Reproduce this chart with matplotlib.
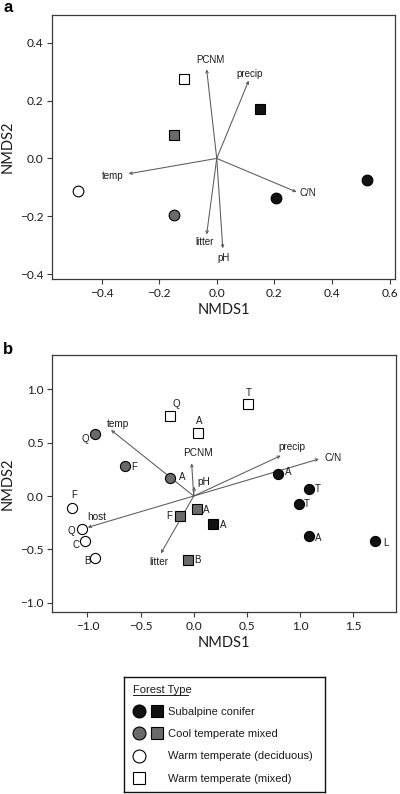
import matplotlib
matplotlib.use('Agg')
import matplotlib.pyplot as plt
from matplotlib.lines import Line2D
from matplotlib.legend_handler import HandlerTuple

# ---------------- data ----------------
forest_types = ['Subalpine conifer', 'Cool temperate mixed',
                'Warm temperate (deciduous)', 'Warm temperate (mixed)']

# panel a: site scores
a_x = [-0.482, -0.147, 0.206, 0.521, -0.112, -0.147, 0.149]
a_y = [-0.111, -0.194, -0.138, -0.073, 0.273, 0.081, 0.171]
a_type = [2, 1, 0, 0, 3, 1, 0]
a_shape = ['o', 'o', 'o', 'o', 's', 's', 's']

# panel a: environmental vectors
a_vec_names = ['PCNM', 'precip', 'temp', 'C/N', 'litter', 'pH']
a_vec_x = [-0.035, 0.111, -0.306, 0.277, -0.035, 0.021]
a_vec_y = [0.308, 0.269, -0.053, -0.116, -0.263, -0.311]

# panel b: site scores
b_x = [-0.925, -0.644, -0.219, -1.144, -1.050, -1.022, -0.925,
       -0.219, 0.041, 0.513, -0.131, 0.034, -0.050, 0.178,
       0.794, 1.084, 0.988, 1.084, 1.709]
b_y = [0.584, 0.281, 0.172, -0.109, -0.306, -0.422, -0.584,
       0.750, 0.588, 0.866, -0.184, -0.119, -0.600, -0.259,
       0.203, 0.066, -0.072, -0.378, -0.425]
b_type = [1, 1, 1, 2, 2, 2, 2,
          3, 3, 3, 1, 1, 1, 0,
          0, 0, 0, 0, 0]
b_shape = ['o', 'o', 'o', 'o', 'o', 'o', 'o',
           's', 's', 's', 's', 's', 's', 's',
           'o', 'o', 'o', 'o', 'o']
b_host = ['Q', 'F', 'A', 'F', 'Q', 'C', 'B',
          'Q', 'A', 'T', 'F', 'A', 'B', 'A',
          'A', 'T', 'T', 'A', 'L']

# panel b: environmental vectors
b_vec_names = ['temp', 'PCNM', 'pH', 'precip', 'C/N', 'host', 'litter']
b_vec_x = [-0.778, -0.019, 0.006, 0.819, 1.178, -0.997, -0.309]
b_vec_y = [0.619, 0.306, 0.088, 0.378, 0.347, -0.294, -0.538]

# ---------------- styles / layout ----------------
type_fill = ['#111111', '#6a6a6a', 'white', 'white']
arrow_col = '#5a5a5a'
spine_col = '#3a3a3a'
FONT_AX = ['Lato', 'DejaVu Sans']
FONT_LAB = ['Liberation Sans', 'DejaVu Sans']

a_vec_off = [(2.5, 6.5), (0.5, 4.8), (-11.4, -1.5), (8.5, -1.0), (-1.7, -5.2), (0.8, -6.9)]
b_vec_off = [(4.8, 4.1), (4.8, 7.2), (7.0, 3.5), (8.1, 6.5), (10.0, 0.7), (6.7, 7.7), (-1.5, -6.0)]
b_lab_off = [(-7.2, -3.8), (6.7, -0.5), (8.6, 0.5), (1.7, 9.1), (-7.7, -1.7), (-6.7, -2.9), (-6.0, -1.7),
             (4.1, 8.4), (0.5, 8.6), (0.2, 7.9), (-7.9, 0.0), (6.7, -1.0), (6.7, 0.0), (7.7, -1.0),
             (7.2, 1.9), (6.5, 0.2), (5.5, -0.2), (7.0, -1.0), (7.7, -1.0)]

fig = plt.figure(figsize=(4.0, 7.94), dpi=100)
W, H = 400.0, 794.0


def box(l, t, r, b):
    return [l / W, 1 - b / H, (r - l) / W, (b - t) / H]


def style_axes(ax, xt, yt, xlim, ylim):
    ax.set_xlim(*xlim)
    ax.set_ylim(*ylim)
    ax.set_xticks(xt)
    ax.set_yticks(yt)
    ax.set_xticklabels([f'{v:.1f}'.replace('-', '\u2212') for v in xt])
    ax.set_yticklabels([f'{v:.1f}'.replace('-', '\u2212') for v in yt])
    for s in ax.spines.values():
        s.set_color(spine_col)
        s.set_linewidth(0.9)
    ax.tick_params(direction='out', length=3.6, width=0.8, color=spine_col,
                   labelsize=8.6, labelcolor='#1a1a1a', pad=2.5)
    for lab in ax.get_xticklabels() + ax.get_yticklabels():
        lab.set_family(FONT_AX)
    ax.set_xlabel('NMDS1', fontsize=10.5, family=FONT_AX, labelpad=3, color='#1a1a1a')
    ax.set_ylabel('NMDS2', fontsize=10.5, family=FONT_AX, labelpad=4, color='#1a1a1a')


def draw_sites(ax, xs, ys, types, shapes, size):
    for x, y, t, m in zip(xs, ys, types, shapes):
        ms = size if m == 'o' else size * 0.93
        ax.plot([x], [y], marker=m, linestyle='none', markersize=ms,
                markerfacecolor=type_fill[t], markeredgecolor='black',
                markeredgewidth=0.8, zorder=3)


def draw_vectors(ax, names, vx, vy, offs, fs):
    for n, x, y, o in zip(names, vx, vy, offs):
        ax.annotate('', xy=(x, y), xytext=(0, 0),
                    arrowprops=dict(arrowstyle='->', color=arrow_col, lw=0.75,
                                    mutation_scale=4.5, shrinkA=0, shrinkB=0),
                    zorder=2)
        ax.annotate(n, xy=(x, y), xytext=o, textcoords='offset points',
                    ha='center', va='center', fontsize=fs, family=FONT_LAB,
                    color='#1a1a1a')


# ---------------- panel a ----------------
ax_a = fig.add_axes(box(52, 15, 395, 279.3))
style_axes(ax_a, [-0.4, -0.2, 0.0, 0.2, 0.4, 0.6], [-0.4, -0.2, 0.0, 0.2, 0.4],
           (-0.572, 0.619), (-0.418, 0.496))
draw_vectors(ax_a, a_vec_names, a_vec_x, a_vec_y, a_vec_off, 7.0)
draw_sites(ax_a, a_x, a_y, a_type, a_shape, 7.7)
fig.text(3 / W, 1 - 7 / H, 'a', fontsize=12, fontweight='bold', family=FONT_LAB,
         va='center', ha='left')

# ---------------- panel b ----------------
ax_b = fig.add_axes(box(52.3, 355, 396, 612.3))
style_axes(ax_b, [-1.0, -0.5, 0.0, 0.5, 1.0, 1.5], [-1.0, -0.5, 0.0, 0.5, 1.0],
           (-1.33, 1.903), (-1.09, 1.322))
draw_vectors(ax_b, b_vec_names, b_vec_x, b_vec_y, b_vec_off, 7.2)
draw_sites(ax_b, b_x, b_y, b_type, b_shape, 7.3)
for x, y, h, o in zip(b_x, b_y, b_host, b_lab_off):
    ax_b.annotate(h, xy=(x, y), xytext=o, textcoords='offset points',
                  ha='center', va='center', fontsize=7.0, family=FONT_LAB,
                  color='#1a1a1a')
fig.text(3 / W, 1 - 350 / H, 'b', fontsize=12, fontweight='bold', family=FONT_LAB,
         va='center', ha='left')

# ---------------- legend ----------------
ax_l = fig.add_axes(box(124.3, 676.7, 325, 791.7))
ax_l.set_xticks([])
ax_l.set_yticks([])
for s in ax_l.spines.values():
    s.set_color('#111111')
    s.set_linewidth(1.0)

blank = Line2D([], [], linestyle='none', marker=None)


def mk(m, t):
    return Line2D([], [], linestyle='none', marker=m,
                  markersize=9.3 if m == 'o' else 8.3,
                  markerfacecolor=type_fill[t], markeredgecolor='black',
                  markeredgewidth=0.8)


handles = [(mk('o', 0), mk('s', 0)), (mk('o', 1), mk('s', 1)),
           (mk('o', 2), blank), (mk('s', 3), blank)]
leg = ax_l.legend(handles, forest_types, loc='upper left',
                  bbox_to_anchor=(0.051, 0.74), frameon=False,
                  handler_map={tuple: HandlerTuple(ndivide=None, pad=0.84)},
                  handlelength=2.4, handletextpad=0.63, labelspacing=1.12,
                  borderaxespad=0.0, borderpad=0.0,
                  prop={'family': FONT_LAB, 'size': 8.0})
for t in leg.get_texts():
    t.set_color('#1a1a1a')
ax_l.text(0.045, 0.86, 'Forest Type', transform=ax_l.transAxes,
          fontsize=8.0, family=FONT_LAB, ha='left', va='baseline', color='#1a1a1a')
ax_l.plot([0.045, 0.318], [0.84, 0.84], transform=ax_l.transAxes, color='#1a1a1a', lw=0.7)

fig.savefig('out.png', dpi=100)
